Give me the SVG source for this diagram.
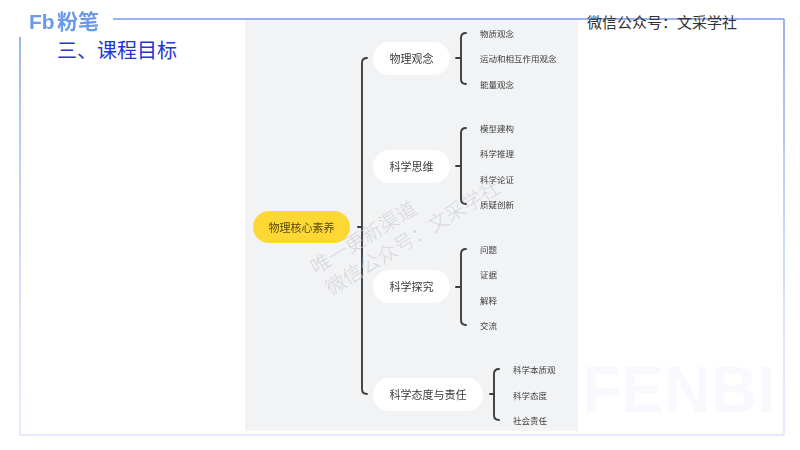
<svg xmlns="http://www.w3.org/2000/svg" width="800" height="450" viewBox="0 0 800 450">
<style>
text{font-family:"Noto Sans CJK SC","Liberation Sans",sans-serif}
.pill{fill:#fff}
.root{fill:#fdd835}
.n{font-size:11px;fill:#3a3a3a;text-anchor:middle;dominant-baseline:central}
.r{font-size:11px;fill:#5a4a10;text-anchor:middle;dominant-baseline:central}
.l{font-size:8.5px;fill:#3c3c3c;dominant-baseline:central}
.b{fill:none;stroke:#3e3e3e;stroke-width:1.9;stroke-linecap:round}
.wm{font-size:20px;font-weight:300;fill:#c8cacd;fill-opacity:.7}
</style>
<defs>
<filter id="soft" x="-5%" y="-5%" width="110%" height="110%"><feGaussianBlur stdDeviation="0.35"/></filter>
<linearGradient id="side" gradientUnits="userSpaceOnUse" x1="0" y1="19" x2="0" y2="435"><stop offset="0" stop-color="#7b98ea"/><stop offset=".35" stop-color="#a9bdf2"/><stop offset=".75" stop-color="#d3ddfa"/><stop offset="1" stop-color="#dfe6fb"/></linearGradient>
</defs>
<rect width="800" height="450" fill="#fff"/>
<text x="582" y="412" font-size="65" font-weight="700" fill="#f8f9fe" textLength="193" lengthAdjust="spacingAndGlyphs" style="font-family:'Liberation Sans',sans-serif">FENBI</text>
<rect x="245" y="19" width="333" height="412" fill="#f2f3f5"/>
<g id="frame" fill="none" stroke-width="1.5">
<path d="M113 19H784" stroke="#7b98ea"/>
<path d="M784 19V435" stroke="url(#side)"/>
<path d="M20 37V435" stroke="url(#side)"/>
<path d="M20 435H784" stroke="#dbe3fb"/>
</g>
<g id="logo" fill="#6a9ae8" filter="url(#soft)">
<text x="29" y="29" font-size="21" font-weight="700" style="font-family:'Liberation Sans',sans-serif">Fb</text>
<text x="57" y="29" font-size="21" font-weight="700">粉笔</text>
</g>
<text id="title" x="57" y="58" font-size="20" fill="#2436cf">三、课程目标</text>
<text id="account" x="587" y="28" font-size="15" fill="#333">微信公众号：文采学社</text>
<g filter="url(#soft)">
<g id="connectors">
<path class="b" d="M367 58Q362 58 362 63V389Q362 394 367 394M358 227H362"/>
<path class="b" d="M466 33Q461 33 461 38V79Q461 84 466 84M456 58H461"/>
<path class="b" d="M466 128Q461 128 461 133V199Q461 204 466 204M456 166H461"/>
<path class="b" d="M466 249Q461 249 461 254V320Q461 325 466 325M456 287H461"/>
<path class="b" d="M499 369Q494 369 494 374V415Q494 420 499 420M490 394H494"/>
</g>
<g id="root"><rect class="root" x="253" y="211" width="97" height="32" rx="16"/><text class="r" x="301.500" y="227">物理核心素养</text></g>
<g id="n1"><rect class="pill" x="373" y="42" width="77" height="33" rx="16.500"/><text class="n" x="411.500" y="58">物理观念</text></g>
<g id="n2"><rect class="pill" x="373" y="150" width="77" height="33" rx="16.500"/><text class="n" x="411.500" y="166">科学思维</text></g>
<g id="n3"><rect class="pill" x="373" y="270" width="77" height="33" rx="16.500"/><text class="n" x="411.500" y="286">科学探究</text></g>
<g id="n4"><rect class="pill" x="373" y="378" width="110" height="33" rx="16.500"/><text class="n" x="428" y="394">科学态度与责任</text></g>
<g id="l1"><text class="l" x="480" y="33">物质观念</text></g>
<g id="l2"><text class="l" x="480" y="58">运动和相互作用观念</text></g>
<g id="l3"><text class="l" x="480" y="84">能量观念</text></g>
<g id="l4"><text class="l" x="480" y="128">模型建构</text></g>
<g id="l5"><text class="l" x="480" y="153">科学推理</text></g>
<g id="l6"><text class="l" x="480" y="178.500">科学论证</text></g>
<g id="l7"><text class="l" x="480" y="204">质疑创新</text></g>
<g id="l8"><text class="l" x="480" y="248.500">问题</text></g>
<g id="l9"><text class="l" x="480" y="274">证据</text></g>
<g id="l10"><text class="l" x="480" y="299.500">解释</text></g>
<g id="l11"><text class="l" x="480" y="325">交流</text></g>
<g id="l12"><text class="l" x="513" y="369">科学本质观</text></g>
<g id="l13"><text class="l" x="513" y="394.500">科学态度</text></g>
<g id="l14"><text class="l" x="513" y="420">社会责任</text></g>
</g>
<g id="watermark">
<text class="wm" transform="translate(316 275) rotate(-31.500)">唯一更新渠道</text>
<text class="wm" transform="translate(331 296) rotate(-31.500)">微信公众号：文采学社</text>
</g>
</svg>
